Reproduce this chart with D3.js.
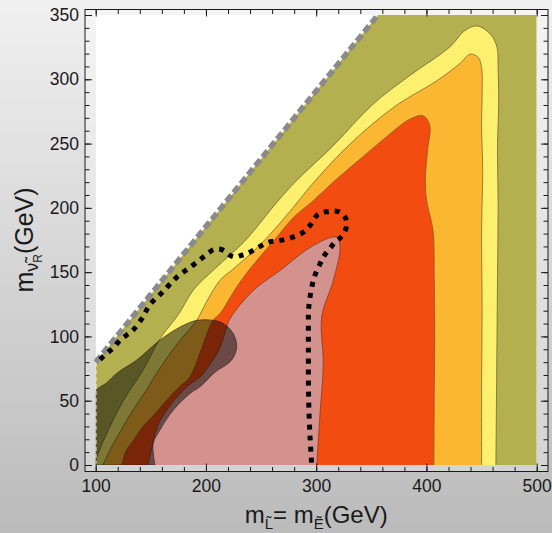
<!DOCTYPE html>
<html>
<head>
<meta charset="utf-8">
<script src="https://cdn.jsdelivr.net/npm/d3@7"></script>
<style>
  body { margin: 0; }
  svg { display: block; }
</style>
</head>
<body>
<div id="chart"></div>
<script>
// axis ticks
var xMajor = [100, 200, 300, 400, 500];
var yMajor = [0, 50, 100, 150, 200, 250, 300, 350];
var xMinor = d3.range(100, 501, 20);
var yMinor = d3.range(0, 351, 10);

// kinematic limit (dashed grey)
var diagEdge = [[100, 80], [356, 350]];

// outer region, everything under the diagonal
var oliveEdge = [[100, 0], [100, 80], [356, 350], [500, 350], [500, 0]];

// contour boundaries [m_L, m_nu], each closed along m_nu = 0
var yellowEdge = [[99.5, 0], [101, 6], [113, 30], [125, 50], [143, 74], [159, 99], [175, 117], [188.5, 136],
  [208, 152.6], [235, 174], [265, 205], [282, 221], [315, 248], [352, 281], [385, 303], [421, 325],
  [435, 338], [446, 341.5], [458, 335], [464, 325], [465, 309], [465.5, 280], [464.5, 250], [465, 200],
  [464.5, 150], [464, 100], [463.5, 50], [463, 0]];

var orangeEdge = [[106.5, 0], [115, 15], [125, 30], [134, 43], [145, 57], [155, 71], [166, 85], [176.5, 97],
  [191.6, 112.5], [200, 126], [212.7, 143.6], [225, 152.6], [250, 172], [275, 196], [299, 221],
  [330.7, 249.6], [369.9, 278], [409.3, 298.8], [430, 312], [439.5, 319.5], [447, 317], [450, 309],
  [450.5, 290], [450, 263], [451, 230], [450, 180], [450.5, 120], [450, 60], [450, 0]];

var redEdge = [[123.6, 0], [128, 11.6], [135, 20], [143, 30], [154, 40], [164, 50], [175, 60], [185.5, 68.5],
  [195, 88], [206.4, 112.5], [212.7, 117.7], [227.9, 138.4], [240, 152.6], [264, 177], [280, 193],
  [297.4, 205.6], [317, 221.2], [340, 238], [362, 254], [385, 269], [397, 271.6], [403, 264], [401, 245],
  [399, 221], [400.2, 205.6], [406, 182], [407, 150], [407.5, 100], [407, 50], [406.8, 0]];

var pinkEdge = [[147.5, 0], [150, 10], [156, 30], [164.4, 42.7], [182.5, 60.8], [194.6, 68.5], [205, 80],
  [213, 92], [218, 105], [222, 114], [243, 135.8], [267.2, 151.3], [297.4, 170.7], [318.6, 177.2],
  [321.6, 169.4], [315.5, 143.6], [305, 115.1], [306.4, 78.9], [303.5, 40.1], [300.5, 0]];

// dark shaded exclusion
var shadeEdge = [[100, 0], [100, 57], [110, 64], [120, 72], [137, 81.5], [158, 97], [176.5, 107.3],
  [191.6, 112.5], [206.7, 112.5], [215.8, 110], [224.8, 102.2], [227.9, 91.8], [223.2, 81.5], [208, 72],
  [194.6, 60.8], [185.5, 55.6], [170.4, 42.7], [158.3, 27.2], [152.2, 16.8], [153.8, 0]];

// dotted black curve
var dotLine = [[104, 82], [110, 87], [116, 91], [122, 97], [128, 101], [134, 105], [142, 114], [149, 124.5],
  [160, 134], [173.5, 146], [186, 154], [197.6, 161.7], [206.7, 167.4], [212, 168], [217.3, 166.3],
  [222, 163], [226.4, 161.7], [232, 163], [237, 164.3], [247, 169], [256.6, 173.3], [267, 174.6],
  [278, 177], [288.3, 181], [295, 187], [301, 194.5], [306, 196.5], [311, 197], [316, 197.5],
  [321.6, 196.6], [326, 193], [327.7, 188.8], [327, 184], [324.6, 179.8], [321, 176], [317, 173.3],
  [313, 169], [309.5, 165.5], [306, 161], [303.5, 156.5], [300, 150], [297.4, 143.6], [294.4, 130.6],
  [293, 120], [292.9, 112.5], [292.9, 95], [292.9, 78.9], [293, 60], [293.5, 40.1], [294.5, 20], [295.9, 0]];

var W = 552, H = 533;
var frame = { left: 85, right: 548, top: 9.5, bottom: 471.5 };

var x = d3.scaleLinear().domain([100, 500]).range([95.7, 536.7]);
var y = d3.scaleLinear().domain([0, 350]).range([465, 15]);

var svg = d3.select("#chart").append("svg")
    .attr("width", W)
    .attr("height", H);

var defs = svg.append("defs");
var grad = defs.append("linearGradient")
    .attr("id", "bg")
    .attr("x1", 0).attr("y1", 0).attr("x2", 0).attr("y2", 1);
grad.append("stop").attr("offset", "0%").attr("stop-color", "#f0f0f0");
grad.append("stop").attr("offset", "100%").attr("stop-color", "#bbbbbb");

defs.append("clipPath").attr("id", "plotclip")
  .append("rect")
    .attr("x", x(100)).attr("y", y(350))
    .attr("width", x(500) - x(100))
    .attr("height", y(0) - y(350));

svg.append("rect")
    .attr("width", W).attr("height", H)
    .attr("fill", "url(#bg)");

// lighter inside the frame
svg.append("rect")
    .attr("x", frame.left).attr("y", frame.top)
    .attr("width", frame.right - frame.left)
    .attr("height", frame.bottom - frame.top)
    .attr("fill", "#ffffff")
    .attr("fill-opacity", 0.3);

var plot = svg.append("g").attr("clip-path", "url(#plotclip)");

plot.append("rect")
    .attr("x", x(100)).attr("y", y(350))
    .attr("width", x(500) - x(100))
    .attr("height", y(0) - y(350))
    .attr("fill", "#ffffff");

var line = d3.line()
    .x(function (d) { return x(d[0]); })
    .y(function (d) { return y(d[1]); });

var smooth = d3.line()
    .x(function (d) { return x(d[0]); })
    .y(function (d) { return y(d[1]); })
    .curve(d3.curveCatmullRom.alpha(0.5));

plot.append("path")
    .attr("d", line(oliveEdge) + "Z")
    .attr("fill", "#b4af4f");

// filled contours, inner over outer
var bands = [
    { pts: yellowEdge, fill: "#fdf06e", stroke: "#6e6a30" },
    { pts: orangeEdge, fill: "#fcb732", stroke: "#7c6a2c" },
    { pts: redEdge, fill: "#f24c10", stroke: "#8a5a20" },
    { pts: pinkEdge, fill: "#d4928e", stroke: "#8a3c22" }
];

bands.forEach(function (b) {
    plot.append("path")
        .attr("d", smooth(b.pts) + "Z")
        .attr("fill", b.fill);
    plot.append("path")
        .attr("d", smooth(b.pts))
        .attr("fill", "none")
        .attr("stroke", b.stroke)
        .attr("stroke-width", 0.9)
        .attr("stroke-opacity", 0.9);
});

// shaded region
plot.append("path")
    .attr("d", smooth(shadeEdge) + "Z")
    .attr("fill", "#000000")
    .attr("fill-opacity", 0.5)
    .attr("stroke", "#2a1a1a")
    .attr("stroke-width", 0.8)
    .attr("stroke-opacity", 0.7);

// white dashed left edge under the diagonal
plot.append("path")
    .attr("d", line([[100, 0], [100, 80]]))
    .attr("stroke", "#ffffff")
    .attr("stroke-width", 1.5)
    .attr("stroke-dasharray", "4,3");

// dashed kinematic line
svg.append("path")
    .attr("d", line(diagEdge))
    .attr("stroke", "#8a8a8a")
    .attr("stroke-width", 5.5)
    .attr("stroke-dasharray", "8,3.5")
    .attr("fill", "none");

// dotted curve
svg.append("path")
    .attr("d", smooth(dotLine))
    .attr("fill", "none")
    .attr("stroke", "#000000")
    .attr("stroke-width", 5)
    .attr("stroke-dasharray", "5,6");

// frame
svg.append("rect")
    .attr("x", frame.left).attr("y", frame.top)
    .attr("width", frame.right - frame.left)
    .attr("height", frame.bottom - frame.top)
    .attr("fill", "none")
    .attr("stroke", "#1a1a1a")
    .attr("stroke-width", 1);

// axes, ticks pointing inward
function styleAxis(g) {
    g.select(".domain").remove();
    g.selectAll(".tick line").attr("stroke", "#1a1a1a");
    g.selectAll("text")
        .attr("fill", "#1a1a1a")
        .style("font-family", "'Liberation Sans', Arial, sans-serif")
        .style("font-size", "17.5px");
}

svg.append("g")
    .attr("transform", "translate(0," + frame.bottom + ")")
    .call(d3.axisBottom(x).tickValues(xMinor).tickSize(-4.5).tickFormat(""))
    .call(styleAxis);
svg.append("g")
    .attr("transform", "translate(0," + frame.bottom + ")")
    .call(d3.axisBottom(x).tickValues(xMajor).tickSize(-8).tickPadding(8).tickFormat(d3.format("d")))
    .call(styleAxis);

svg.append("g")
    .attr("transform", "translate(0," + frame.top + ")")
    .call(d3.axisTop(x).tickValues(xMinor).tickSize(-4.5).tickFormat(""))
    .call(styleAxis);
svg.append("g")
    .attr("transform", "translate(0," + frame.top + ")")
    .call(d3.axisTop(x).tickValues(xMajor).tickSize(-7).tickFormat(""))
    .call(styleAxis);

svg.append("g")
    .attr("transform", "translate(" + frame.left + ",0)")
    .call(d3.axisLeft(y).tickValues(yMinor).tickSize(-4.5).tickFormat(""))
    .call(styleAxis);
svg.append("g")
    .attr("transform", "translate(" + frame.left + ",0)")
    .call(d3.axisLeft(y).tickValues(yMajor).tickSize(-7).tickPadding(6).tickFormat(d3.format("d")))
    .call(styleAxis);

svg.append("g")
    .attr("transform", "translate(" + frame.right + ",0)")
    .call(d3.axisRight(y).tickValues(yMinor).tickSize(-4.5).tickFormat(""))
    .call(styleAxis);
svg.append("g")
    .attr("transform", "translate(" + frame.right + ",0)")
    .call(d3.axisRight(y).tickValues(yMajor).tickSize(-7).tickFormat(""))
    .call(styleAxis);

// axis titles
var font = "'Liberation Sans', Arial, sans-serif";

var xt = svg.append("text")
    .attr("x", (x(100) + x(500)) / 2)
    .attr("y", 523)
    .attr("text-anchor", "middle")
    .style("font-family", font)
    .style("font-size", "24px")
    .attr("fill", "#1a1a1a");
xt.append("tspan").text("m");
xt.append("tspan").attr("dy", 6).style("font-size", "15px").text("L\u0303");
xt.append("tspan").attr("dy", -6).text("= m");
xt.append("tspan").attr("dy", 6).style("font-size", "15px").text("E\u0303");
xt.append("tspan").attr("dy", -6).text("(GeV)");

var yt = svg.append("text")
    .attr("transform", "translate(33," + ((y(0) + y(350)) / 2) + ") rotate(-90)")
    .attr("text-anchor", "middle")
    .style("font-family", font)
    .style("font-size", "25px")
    .attr("fill", "#1a1a1a");
yt.append("tspan").text("m");
yt.append("tspan").attr("dy", 5).style("font-size", "18px").text("\u03bd\u0303");
yt.append("tspan").attr("dy", 4).style("font-size", "12px").text("R");
yt.append("tspan").attr("dy", -9).text("(GeV)");
</script>
</body>
</html>
